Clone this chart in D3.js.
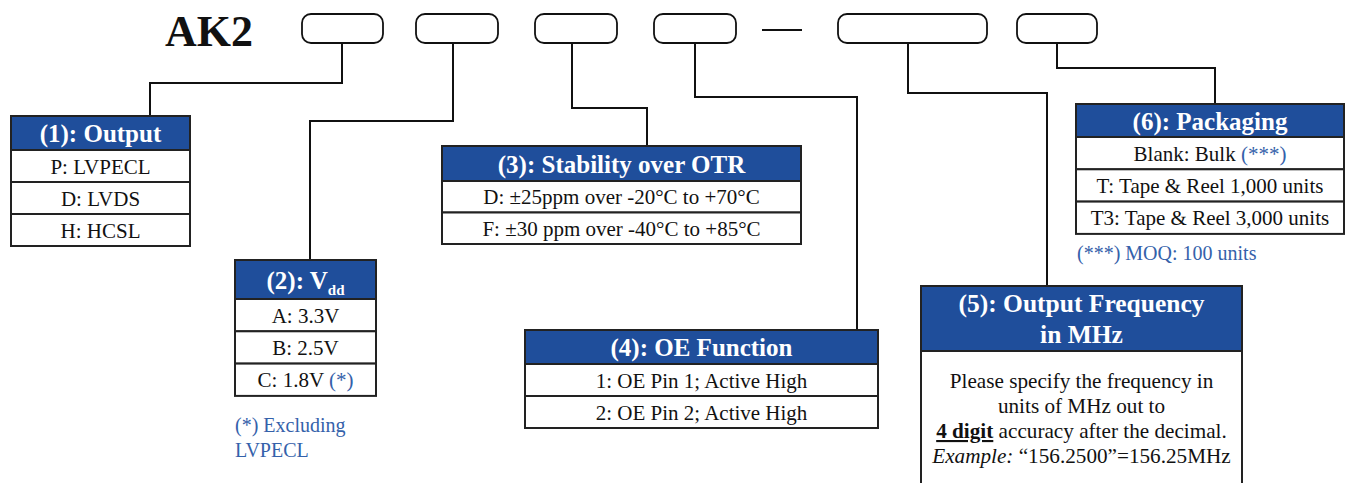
<!DOCTYPE html>
<html>
<head>
  <meta charset='utf-8' />
  <title>AK2 ordering code</title>
  <style>
    body { margin: 0; background: #fff; }
  </style>
</head>
<body>
  <div id="wrapper"></div>

<script src='https://d3js.org/d3.v7.min.js' charset='utf-8'></script>
<script>
  // text content of the ordering chart
  const prefix = 'AK2'
  const titles = ['(1): Output', '(2): V', '(3): Stability over OTR', '(4): OE Function', '(5): Output Frequency', '(6): Packaging']
  const outputOptions = ['P: LVPECL', 'D: LVDS', 'H: HCSL']
  const vddOptions = ['A: 3.3V', 'B: 2.5V', 'C: 1.8V']
  const stabilityOptions = ['D: \u00b125ppm over -20\u00b0C to +70\u00b0C', 'F: \u00b130 ppm over -40\u00b0C to +85\u00b0C']
  const oeOptions = ['1: OE Pin 1; Active High', '2: OE Pin 2; Active High']
  const packagingOptions = ['Blank: Bulk', 'T: Tape & Reel 1,000 units', 'T3: Tape & Reel 3,000 units']
  const rowMarks = [[], ['', '', '(*)'], [], [], [], ['(***)', '', '']]
  const vddNote = ['(*) Excluding', 'LVPECL']
  const packNote = '(***) MOQ: 100 units'

  const optionLists = [outputOptions, vddOptions, stabilityOptions, oeOptions, null, packagingOptions]

  // layout (pixels)
  const slots = [
    { x: 302, w: 81 }, { x: 416, w: 82 }, { x: 535, w: 82 },
    { x: 654, w: 82 }, { x: 838, w: 149 }, { x: 1017, w: 80 }
  ]
  const slotY = 14, slotH = 29

  // connector: start x on slot, elbow y, end x on table
  const links = [
    { x0: 342, ym: 83, x1: 150 },
    { x0: 453, ym: 121, x1: 310 },
    { x0: 572, ym: 108, x1: 647 },
    { x0: 695, ym: 97, x1: 857 },
    { x0: 908, ym: 93, x1: 1047 },
    { x0: 1057, ym: 68, x1: 1215 }
  ]

  const tables = [
    { x: 11, y: 116, w: 179, headH: 34, rowH: 32 },
    { x: 235, y: 260, w: 141, headH: 39, rowH: 32.3 },
    { x: 442, y: 146, w: 359, headH: 35, rowH: 31.5 },
    { x: 525, y: 330, w: 353, headH: 34, rowH: 32 },
    { x: 921, y: 286, w: 321, headH: 65, rowH: 0 },
    { x: 1076, y: 104, w: 268, headH: 33, rowH: 32.3 }
  ]

  const font = "'Liberation Serif', 'Tinos', 'DejaVu Serif', serif"
  const headBlue = '#1f4e9b'
  const noteBlue = '#3461aa'
  const ink = '#111'

  const svg = d3.select('#wrapper')
    .append('svg')
      .attr('width', 1355)
      .attr('height', 483)
      .attr('font-family', font)

  // title
  svg.append('text')
    .attr('x', 165)
    .attr('y', 46)
    .attr('font-size', 44)
    .attr('font-weight', 'bold')
    .attr('fill', ink)
    .text(prefix)

  // code slots
  svg.selectAll('rect.slot')
    .data(slots)
    .enter()
    .append('rect')
      .attr('class', 'slot')
      .attr('x', d => d.x)
      .attr('y', slotY)
      .attr('width', d => d.w)
      .attr('height', slotH)
      .attr('rx', 9)
      .attr('fill', 'none')
      .attr('stroke', ink)
      .attr('stroke-width', 1.8)

  // dash between slot 4 and 5
  svg.append('line')
    .attr('x1', 762).attr('x2', 802)
    .attr('y1', 30).attr('y2', 30)
    .attr('stroke', ink)
    .attr('stroke-width', 1.8)

  // connectors
  const line = d3.line()
  svg.selectAll('path.link')
    .data(links)
    .enter()
    .append('path')
      .attr('class', 'link')
      .attr('d', (d, i) => line([
        [d.x0, slotY + slotH], [d.x0, d.ym], [d.x1, d.ym], [d.x1, tables[i].y]
      ]))
      .attr('fill', 'none')
      .attr('stroke', ink)
      .attr('stroke-width', 2)

  // tables
  const groups = svg.selectAll('g.table')
    .data(tables)
    .enter()
    .append('g')
      .attr('class', 'table')

  groups.append('rect')
    .attr('x', d => d.x)
    .attr('y', d => d.y)
    .attr('width', d => d.w)
    .attr('height', d => d.headH)
    .attr('fill', headBlue)
    .attr('stroke', '#222')
    .attr('stroke-width', 2)

  groups.each(function (d, i) {
    const g = d3.select(this)
    const cx = d.x + d.w / 2
    const opts = optionLists[i]

    if (i === 4) {
      // two-line header
      g.append('text')
        .attr('x', cx).attr('y', d.y + 26)
        .attr('text-anchor', 'middle')
        .attr('font-size', 25.5).attr('font-weight', 'bold').attr('fill', '#fff')
        .text(titles[i])
      g.append('text')
        .attr('x', cx).attr('y', d.y + 57)
        .attr('text-anchor', 'middle')
        .attr('font-size', 25.5).attr('font-weight', 'bold').attr('fill', '#fff')
        .text('in MHz')
    } else {
      const t = g.append('text')
        .attr('x', cx).attr('y', d.y + d.headH / 2 + 9)
        .attr('text-anchor', 'middle')
        .attr('font-size', 25).attr('font-weight', 'bold').attr('fill', '#fff')
        .text(titles[i])
      if (i === 1) {
        t.append('tspan')
          .attr('font-size', 15)
          .attr('dy', 6)
          .text('dd')
      }
    }

    if (opts) {
      const yRow = d3.scaleLinear()
        .domain([0, opts.length])
        .range([d.y + d.headH, d.y + d.headH + d.rowH * opts.length])

      g.selectAll('rect.row')
        .data(opts)
        .enter()
        .append('rect')
          .attr('class', 'row')
          .attr('x', d.x)
          .attr('y', (o, j) => yRow(j))
          .attr('width', d.w)
          .attr('height', d.rowH)
          .attr('fill', '#fff')
          .attr('stroke', '#222')
          .attr('stroke-width', 2)

      g.selectAll('text.row')
        .data(opts)
        .enter()
        .append('text')
          .attr('class', 'row')
          .attr('x', cx)
          .attr('y', (o, j) => yRow(j) + d.rowH / 2 + 7.5)
          .attr('text-anchor', 'middle')
          .attr('font-size', 21)
          .attr('fill', ink)
          .each(function (o, j) {
            const el = d3.select(this)
            el.append('tspan').text(o)
            const mark = (rowMarks[i] || [])[j]
            if (mark) {
              el.append('tspan').attr('fill', noteBlue).text(' ' + mark)
            }
          })
    }
  })

  // frequency body
  const f = tables[4]
  const fx = f.x + f.w / 2
  svg.append('path')
    .attr('d', line([[f.x, f.y + f.headH], [f.x, 495], [f.x + f.w, 495], [f.x + f.w, f.y + f.headH]]))
    .attr('fill', 'none')
    .attr('stroke', '#222')
    .attr('stroke-width', 2)

  const body = svg.append('g')
    .attr('font-size', 21.2)
    .attr('fill', ink)
    .attr('text-anchor', 'middle')

  body.append('text').attr('x', fx).attr('y', 388).text('Please specify the frequency in')
  body.append('text').attr('x', fx).attr('y', 413).text('units of MHz out to')
  const l3 = body.append('text').attr('x', fx).attr('y', 438)
  l3.append('tspan').attr('font-weight', 'bold').attr('text-decoration', 'underline').text('4 digit')
  l3.append('tspan').text(' accuracy after the decimal.')
  const l4 = body.append('text').attr('x', fx).attr('y', 463)
  l4.append('tspan').attr('font-style', 'italic').text('Example:')
  l4.append('tspan').text(' \u201c156.2500\u201d=156.25MHz')

  // footnotes
  svg.selectAll('text.vddnote')
    .data(vddNote)
    .enter()
    .append('text')
      .attr('class', 'vddnote')
      .attr('x', 235)
      .attr('y', (d, i) => 432 + i * 25)
      .attr('font-size', 20)
      .attr('fill', noteBlue)
      .text(d => d)

  svg.append('text')
    .attr('x', 1077)
    .attr('y', 260)
    .attr('font-size', 20)
    .attr('fill', noteBlue)
    .text(packNote)
</script>
</body>
</html>
